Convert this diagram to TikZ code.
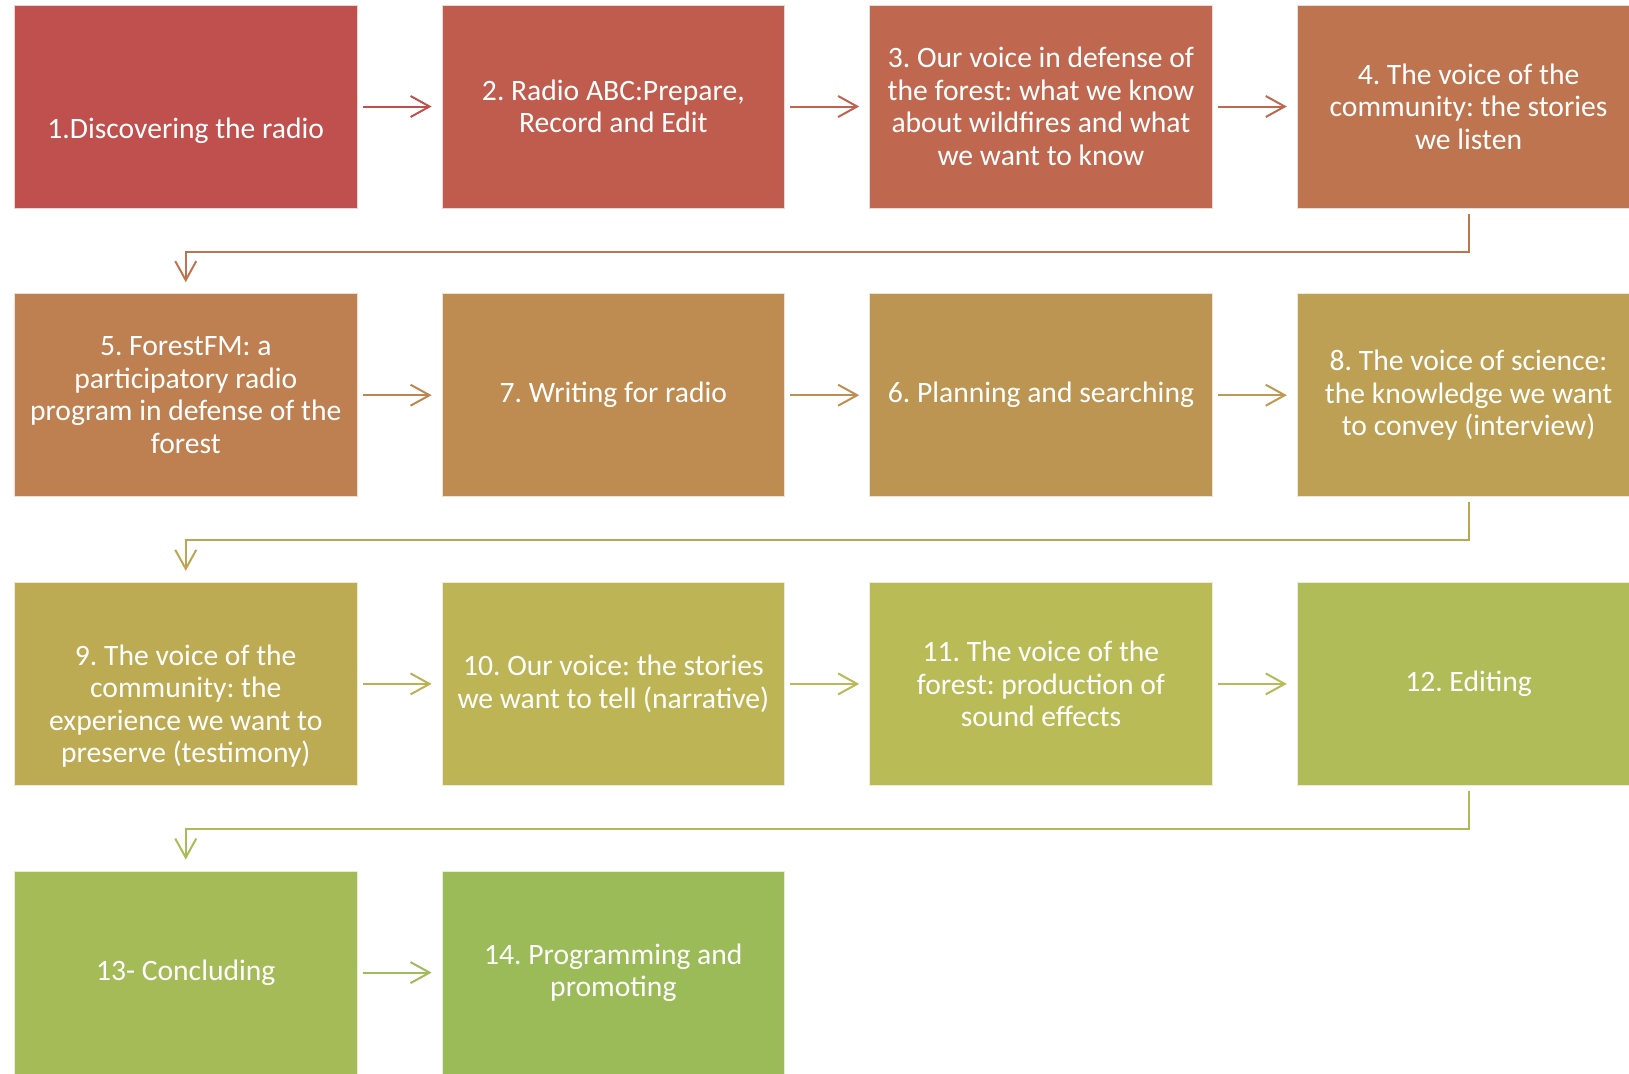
\documentclass[tikz,border=0pt]{standalone}
\usepackage{fontspec}
\setmainfont{Carlito}
\usepackage{tikz}
\usetikzlibrary{arrows.meta}
\usetikzlibrary{positioning}
\frenchspacing
\definecolor{StepA}{RGB}{192,80,77}
\definecolor{StepB}{RGB}{192,92,78}
\definecolor{StepC}{RGB}{191,104,79}
\definecolor{StepD}{RGB}{191,116,80}
\definecolor{StepE}{RGB}{190,127,81}
\definecolor{StepF}{RGB}{190,139,81}
\definecolor{StepG}{RGB}{189,149,82}
\definecolor{StepH}{RGB}{189,160,83}
\definecolor{StepI}{RGB}{189,171,84}
\definecolor{StepJ}{RGB}{189,181,85}
\definecolor{StepK}{RGB}{185,188,86}
\definecolor{StepL}{RGB}{175,188,87}
\definecolor{StepM}{RGB}{165,187,88}
\definecolor{StepN}{RGB}{155,187,89}

\tikzset{
  stagefont/.style={text=white, align=center, font=\fontsize{14.8}{16.25}\selectfont},
  stage/.style={fill=#1, draw=white!75!#1, line width=0.5pt,
    minimum width=171.25pt, minimum height=101.5pt, inner sep=0pt, stagefont},
  flow/.style={draw=#1, line width=1pt, shorten <=2.5pt, shorten >=5pt,
    -{Straight Barb[length=9.5pt, width=10.5pt]}},
  turn/.style={flow=#1, shorten >=5.5pt}
}

\begin{document}
\begin{tikzpicture}[x=0.5pt, y=0.5pt]
    \useasboundingbox (0,0) rectangle (1629,-1073);
    % first row
    \node[stage=StepA] (s1) at (185.75,-106.5) {};
    \node[stagefont] (t1) at ([yshift=-12pt]s1.center) {1.Discovering the radio};
    \node[stage=StepB] (s2) at (613.35,-106.5) {2. Radio ABC:Prepare,\\Record and Edit};
    \node[stage=StepC] (s3) at (1040.95,-106.5) {3. Our voice in defense of\\the forest: what we know\\about wildfires and what\\we want to know};
    \node[stage=StepD] (s4) at (1468.55,-106.5) {4. The voice of the\\community: the stories\\we listen};
    % second row
    \node[stage=StepE] (s5) at (185.75,-395.2) {5. ForestFM: a\\participatory radio\\program in defense of the\\forest};
    \node[stage=StepF] (s6) at (613.35,-395.2) {7. Writing for radio};
    \node[stage=StepG] (s7) at (1040.95,-395.2) {6. Planning and searching};
    \node[stage=StepH] (s8) at (1468.55,-395.2) {8. The voice of science:\\the knowledge we want\\to convey (interview)};
    % third row
    \node[stage=StepI] (s9) at (185.75,-683.9) {};
    \node[stagefont] (t9) at ([yshift=-11pt]s9.center) {9. The voice of the\\community: the\\experience we want to\\preserve (testimony)};
    \node[stage=StepJ] (s10) at (613.35,-683.9) {10. Our voice: the stories\\we want to tell (narrative)};
    \node[stage=StepK] (s11) at (1040.95,-683.9) {11. The voice of the\\forest: production of\\sound effects};
    \node[stage=StepL] (s12) at (1468.55,-683.9) {12. Editing};
    % last row
    \node[stage=StepM] (s13) at (185.75,-972.6) {13- Concluding};
    \node[stage=StepN] (s14) at (613.35,-972.6) {14. Programming and\\promoting};

    \draw[flow={StepA}] (s1) -- (s2);
    \draw[flow={StepB!50!StepC}] (s2) -- (s3);
    \draw[flow={StepC}] (s3) -- (s4);
    \draw[turn={StepD}] (s4.south) -- ++(0,-43) -| (s5.north);
    \draw[flow={StepE!50!StepF}] (s5) -- (s6);
    \draw[flow={StepF!50!StepG}] (s6) -- (s7);
    \draw[flow={StepG!50!StepH}] (s7) -- (s8);
    \draw[turn={StepH!50!StepI}] (s8.south) -- ++(0,-43) -| (s9.north);
    \draw[flow={StepI!50!StepJ}] (s9) -- (s10);
    \draw[flow={StepJ!50!StepK}] (s10) -- (s11);
    \draw[flow={StepK!50!StepL}] (s11) -- (s12);
    \draw[turn={StepL!50!StepM}] (s12.south) -- ++(0,-43) -| (s13.north);
    \draw[flow={StepM!50!StepN}] (s13) -- (s14);
  \end{tikzpicture}
\end{document}
